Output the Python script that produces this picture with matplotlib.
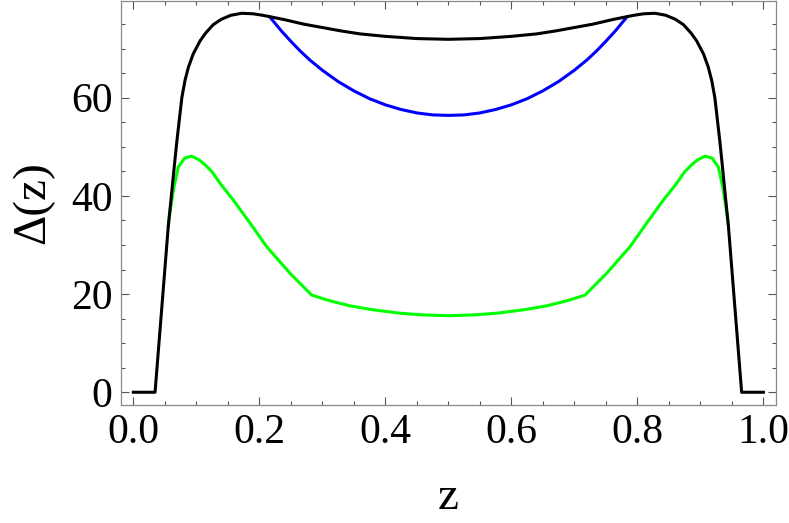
import matplotlib.pyplot as plt
from matplotlib.ticker import MultipleLocator

plt.rcParams['font.family'] = ['Liberation Serif', 'DejaVu Serif']

# black curve (full gap)
z_black = [0.0, 0.0345, 0.0556, 0.06, 0.065, 0.069, 0.073, 0.077, 0.082, 0.0874,
           0.095, 0.106, 0.115, 0.127, 0.14, 0.155, 0.172, 0.19, 0.205, 0.217,
           0.24, 0.27, 0.3, 0.33, 0.36, 0.4, 0.45, 0.5,
           0.55, 0.6, 0.64, 0.67, 0.7, 0.73, 0.76, 0.783, 0.795, 0.81, 0.828,
           0.845, 0.86, 0.873, 0.885, 0.894, 0.905, 0.9126, 0.918, 0.923, 0.927,
           0.931, 0.935, 0.94, 0.9444, 0.9655, 1.0]
d_black = [0, 0, 34, 39.5, 46, 51, 55.5, 60, 63.5, 66.2,
           68.9, 71.6, 73.2, 74.9, 76.0, 76.8, 77.2, 77.1, 76.8, 76.5,
           75.9, 75.0, 74.3, 73.6, 73.0, 72.5, 72.05, 71.9,
           72.05, 72.5, 73.0, 73.6, 74.3, 75.0, 75.9, 76.5, 76.8, 77.1, 77.2,
           76.8, 76.0, 74.9, 73.2, 71.6, 68.9, 66.2, 63.5, 60, 55.5,
           51, 46, 39.5, 34, 0, 0]

# blue curve
z_blue = [0.217, 0.235, 0.25, 0.265, 0.28, 0.3, 0.325, 0.35, 0.375, 0.4,
          0.425, 0.45, 0.475, 0.5, 0.525, 0.55, 0.575, 0.6, 0.625, 0.65,
          0.675, 0.7, 0.72, 0.735, 0.75, 0.765, 0.783]
d_blue = [76.4, 73.6, 71.5, 69.5, 67.7, 65.6, 63.3, 61.4, 59.8, 58.55,
          57.6, 56.9, 56.5, 56.4, 56.5, 56.9, 57.6, 58.55, 59.8, 61.4,
          63.3, 65.6, 67.7, 69.5, 71.5, 73.6, 76.4]

# green curve
z_green = [0.0556, 0.058, 0.064, 0.0715, 0.0815, 0.0927, 0.105, 0.115, 0.125,
           0.138, 0.159, 0.185, 0.212, 0.249, 0.283, 0.31, 0.344, 0.38, 0.4235,
           0.46, 0.5, 0.54, 0.5765, 0.62, 0.656, 0.69, 0.717, 0.751, 0.788,
           0.815, 0.841, 0.862, 0.875, 0.885, 0.895, 0.9073, 0.9185, 0.9285,
           0.936, 0.942, 0.9444]
d_green = [34, 36.4, 41.5, 45.9, 47.7, 48.1, 47.3, 46.2, 44.9,
           42.5, 39.1, 34.5, 29.6, 24.2, 19.8, 18.7, 17.6, 16.8, 16.1,
           15.75, 15.6, 15.75, 16.1, 16.8, 17.6, 18.7, 19.8, 24.2, 29.6,
           34.5, 39.1, 42.5, 44.9, 46.2, 47.3, 48.1, 47.7, 45.9,
           41.5, 36.4, 34]

fig = plt.figure(figsize=(7.89, 5.23), dpi=100)
ax = fig.add_axes([0.153, 0.2256, 0.8305, 0.7734])

ax.plot(z_green, d_green, color='#00ff00', lw=2.2)
ax.plot(z_blue, d_blue, color='#0000ff', lw=2.2)
ax.plot(z_black, d_black, color='black', lw=2.2)

ax.set_xlim(-0.02, 1.02)
ax.set_ylim(-2.6, 79.8)

ax.xaxis.set_minor_locator(MultipleLocator(0.05))
ax.yaxis.set_major_locator(MultipleLocator(20))
ax.yaxis.set_minor_locator(MultipleLocator(5))
ax.set_xticks([0.0, 0.2, 0.4, 0.6, 0.8, 1.0])
ax.set_xticklabels(['0.0', '0.2', '0.4', '0.6', '0.8', '1.0'])

ax.tick_params(which='both', direction='in', top=True, right=True,
               color='#555555', labelsize=30, width=0.8)
ax.tick_params(which='major', length=5.8, pad=6)
ax.tick_params(which='minor', length=3.2)
for s in ax.spines.values():
    s.set_color('#888888')
    s.set_linewidth(0.9)

ax.set_xlabel('z', fontsize=34, labelpad=18)
ax.set_ylabel('Δ(z)', fontsize=34, labelpad=12)

fig.savefig('out.png', dpi=100)
